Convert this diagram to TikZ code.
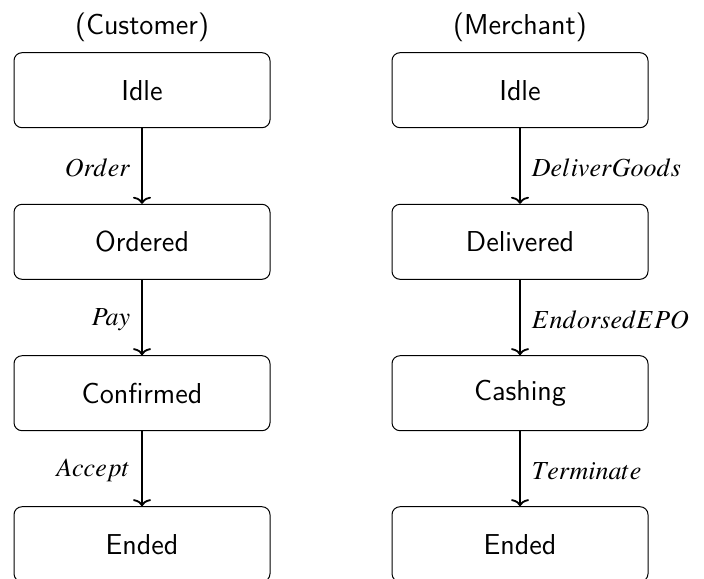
\documentclass[tikz,border=0pt]{standalone}
\usepackage{mathptmx}
\usetikzlibrary{arrows.meta}
\begin{document}
\begin{tikzpicture}[x=1pt,y=1pt,
  state/.style={draw, rounded corners=4pt, line width=0.5pt,
    minimum width=128pt, minimum height=37.5pt, inner sep=0pt,
    font=\sffamily\fontsize{14.4}{17}\selectfont},
  role/.style={font=\sffamily\fontsize{14.4}{17}\selectfont, inner sep=0pt},
  trans/.style={line width=0.9pt,
    -{Computer Modern Rightarrow[length=3.5pt,width=9pt]}},
  lbl/.style={inner sep=0pt, font=\fontsize{13}{15}\selectfont, yshift=-1pt},
  lblL/.style={lbl, anchor=east, xshift=-5.5pt},
  lblR/.style={lbl, anchor=west, xshift=5.5pt}]
\useasboundingbox (0,0) rectangle (352,-289);

% customer automaton
\node[role]  (ctitle) at (71,-13.7)  {(Customer)};
\node[state] (c1) at (71,-45.1)  {Idle};
\node[state] (c2) at (71,-120.9) {Ordered};
\node[state] (c3) at (71,-196.6) {Confirmed};
\node[state] (c4) at (71,-272.1) {Ended};
\draw[trans] (c1) -- node[lblL] {$Order$}  (c2);
\draw[trans] (c2) -- node[lblL] {$Pay$}    (c3);
\draw[trans] (c3) -- node[lblL] {$Accept$} (c4);

% merchant automaton
\node[role]  (mtitle) at (260,-13.7)  {(Merchant)};
\node[state] (m1) at (260,-45.1)  {Idle};
\node[state] (m2) at (260,-120.9) {Delivered};
\node[state] (m3) at (260,-196.6) {Cashing};
\node[state] (m4) at (260,-272.1) {Ended};
\draw[trans] (m1) -- node[lblR] {$DeliverGoods$} (m2);
\draw[trans] (m2) -- node[lblR] {$EndorsedEPO$}  (m3);
\draw[trans] (m3) -- node[lblR] {$Terminate$}    (m4);
\end{tikzpicture}
\end{document}
